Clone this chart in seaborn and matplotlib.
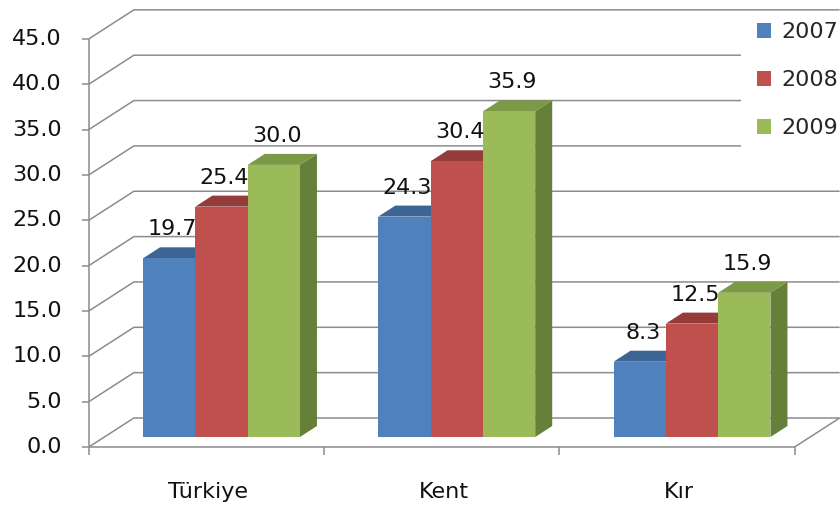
import numpy as np
import pandas as pd
import matplotlib
matplotlib.use("Agg")
import matplotlib.pyplot as plt
from matplotlib.patches import Polygon, Patch, Rectangle
import seaborn as sns

# Data
regions = ["Türkiye", "Kent", "Kır"]
years = ["2007", "2008", "2009"]
values_2007 = [19.7, 24.3, 8.3]
values_2008 = [25.4, 30.4, 12.5]
values_2009 = [30.0, 35.9, 15.9]
y_ticks = [0, 5, 10, 15, 20, 25, 30, 35, 40, 45]

# Excel-style palette: front, top and side shading per series
front_colors = ["#4F81BD", "#C0504D", "#9BBB59"]
top_colors = ["#3C6596", "#943C3A", "#7C9A45"]
side_colors = ["#34577F", "#7E3230", "#66803A"]
grid_color = "#8C8C8C"
FS = 16

df = pd.DataFrame({
    "region": regions * 3,
    "year": np.repeat(years, len(regions)),
    "value": values_2007 + values_2008 + values_2009,
})

sns.set_theme(style="white")
plt.rcParams["font.family"] = ["DejaVu Sans"]

W, H = 840, 507
fig = plt.figure(figsize=(W / 100, H / 100), dpi=100)
ax = fig.add_axes([0, 0, 1, 1])

sns.barplot(data=df, x="region", y="value", hue="year", order=regions,
            hue_order=years, palette=front_colors, saturation=1,
            width=0.667, linewidth=0, errorbar=None, ax=ax, zorder=3,
            legend=False)

# Pixel scale of the bar-front plane
X_PER, Y_PER = 235.25, 9.07
X_ORIGIN, Y_ORIGIN = 221.5, 70
ax.set_xlim(-X_ORIGIN / X_PER, (W - X_ORIGIN) / X_PER)
ax.set_ylim(-Y_ORIGIN / Y_PER, (H - Y_ORIGIN) / Y_PER)
ax.set_axis_off()

FRONT = (-15, -10)   # front plane (axes) relative to bar fronts, px
BACK = (30, 19)      # back wall relative to bar fronts, px
DEPTH = (17, 11)     # depth of each bar, px


def shift(x, y, d):
    return x + d[0] / X_PER, y + d[1] / Y_PER


def line(points, **kw):
    xs, ys = zip(*points)
    ax.plot(xs, ys, color=grid_color, lw=1.1, solid_capstyle="butt", **kw)


x_left, x_right = -0.5, len(regions) - 0.5

# Walls: gridlines on side and back walls
for v in y_ticks:
    line([shift(x_left, v, FRONT), shift(x_left, v, BACK),
          shift(x_right, v, BACK)], zorder=1)

# Vertical value axis with ticks and labels
line([shift(x_left, 0, FRONT), shift(x_left, y_ticks[-1], FRONT)], zorder=1)
for v in y_ticks:
    p = shift(x_left, v, FRONT)
    line([shift(*p, (-7, 0)), p], zorder=1)
    ax.text(*shift(*p, (-27, 0)), f"{v:.1f}", ha="right", va="center",
            fontsize=FS, color="#111111")

# Floor front edge, right edge and category ticks
line([shift(x_left, 0, FRONT), shift(x_right, 0, FRONT),
      shift(x_right, 0, BACK)], zorder=1)
for b in np.arange(x_left, x_right + 0.01, 1.0):
    p = shift(b, 0, FRONT)
    line([p, shift(*p, (0, -8))], zorder=1)

for i, name in enumerate(regions):
    ax.text(*shift(i, 0, (FRONT[0] + 2, FRONT[1] - 45)), name, ha="center",
            va="center", fontsize=FS, color="#111111")

# 3D faces and value labels for each bar
for k, cont in enumerate(ax.containers):
    for bar in cont:
        x, w, h = bar.get_x(), bar.get_width(), bar.get_height()
        top = [(x, h), (x + w, h), shift(x + w, h, DEPTH), shift(x, h, DEPTH)]
        side = [(x + w, 0), (x + w, h), shift(x + w, h, DEPTH),
                shift(x + w, 0, DEPTH)]
        ax.add_patch(Polygon(top, closed=True, facecolor=top_colors[k],
                             edgecolor="none", zorder=2))
        ax.add_patch(Polygon(side, closed=True, facecolor=side_colors[k],
                             edgecolor="none", zorder=2))
        ax.annotate(f"{h:.1f}", (x + w / 2, h), xytext=(3, 19),
                    textcoords="offset pixels", ha="center", va="bottom",
                    fontsize=FS, color="#111111", zorder=5)

# White legend area masking the back-wall gridlines behind it
ax.add_patch(Rectangle((741 / W, 1 - 188 / H), 99 / W, 176 / H,
                       transform=fig.transFigure, facecolor="white",
                       edgecolor="none", zorder=1.5))

handles = [Patch(facecolor=c, edgecolor="none") for c in front_colors]
leg = ax.legend(handles, years, loc="upper left",
                bbox_to_anchor=(747 / W, 1 - 12 / H),
                bbox_transform=fig.transFigure, frameon=False,
                fontsize=FS, handlelength=0.65,
                handleheight=0.65, handletextpad=0.45, labelspacing=1.27,
                borderpad=0.45, borderaxespad=0)
leg.set_zorder(10)

fig.savefig("out.png", dpi=100)
